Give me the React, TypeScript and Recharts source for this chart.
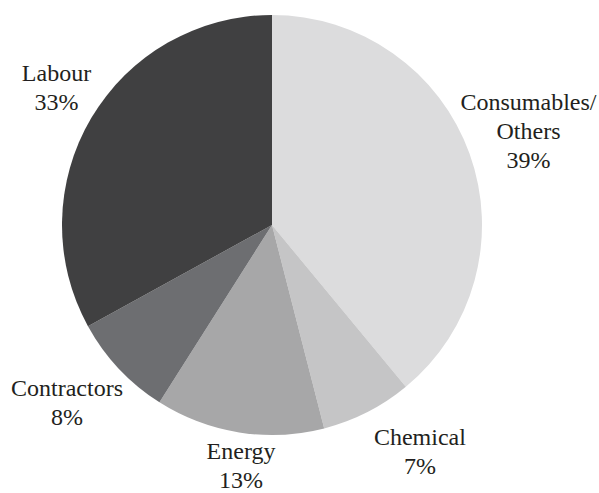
import { PieChart, Pie, Cell } from "recharts";

const categories = ["Consumables/\nOthers", "Chemical", "Energy", "Contractors", "Labour"];
const shares = [39, 7, 13, 8, 33];
const colors = ["#dcdcdd", "#c5c5c6", "#a7a7a8", "#6d6e71", "#404041"];

const data = categories.map((name, i) => ({ name, value: shares[i] }));

// small nudges so labels sit where the original put them
const labelNudge: Record<string, [number, number]> = {
  "Consumables/\nOthers": [10, -5],
  Chemical: [29, -7],
  Energy: [10, -18],
  Contractors: [-14, -2],
  Labour: [10, -4],
};

const RADIAN = Math.PI / 180;
const FONT = '"Liberation Serif", "Times New Roman", "DejaVu Serif", serif';
const LINE = 29;

const renderLabel = (props: any) => {
  const { cx, cy, midAngle, index } = props;
  const name = categories[index];
  const r = 262;
  const [dx, dy] = labelNudge[name] || [0, 0];
  const x = cx + r * Math.cos(-midAngle * RADIAN) + dx;
  const y = cy + r * Math.sin(-midAngle * RADIAN) + dy;
  const lines = [...name.split("\n"), `${shares[index]}%`];
  const top = y - ((lines.length - 1) * LINE) / 2;
  return (
    <text
      key={`lbl-${index}`}
      x={x}
      y={top}
      textAnchor="middle"
      dominantBaseline="central"
      fill="#231f20"
      fontFamily={FONT}
      fontSize={24}
      style={{ fontFamily: FONT }}
    >
      {lines.map((t, i) => (
        <tspan key={i} x={x} y={top + i * LINE}>
          {t}
        </tspan>
      ))}
    </text>
  );
};

export default function App() {
  return (
    <div style={{ position: "absolute", left: 0, top: 0, background: "#fff", fontFamily: FONT }}>
      <PieChart width={599} height={493} margin={{ top: 0, right: 0, bottom: 0, left: 0 }}>
        <Pie
          data={data}
          dataKey="value"
          nameKey="name"
          cx={272}
          cy={225}
          outerRadius={210}
          startAngle={90}
          endAngle={-270}
          stroke="none"
          label={renderLabel}
          labelLine={false}
          isAnimationActive={false}
        >
          {data.map((d, i) => (
            <Cell key={d.name} fill={colors[i]} />
          ))}
        </Pie>
      </PieChart>
    </div>
  );
}
